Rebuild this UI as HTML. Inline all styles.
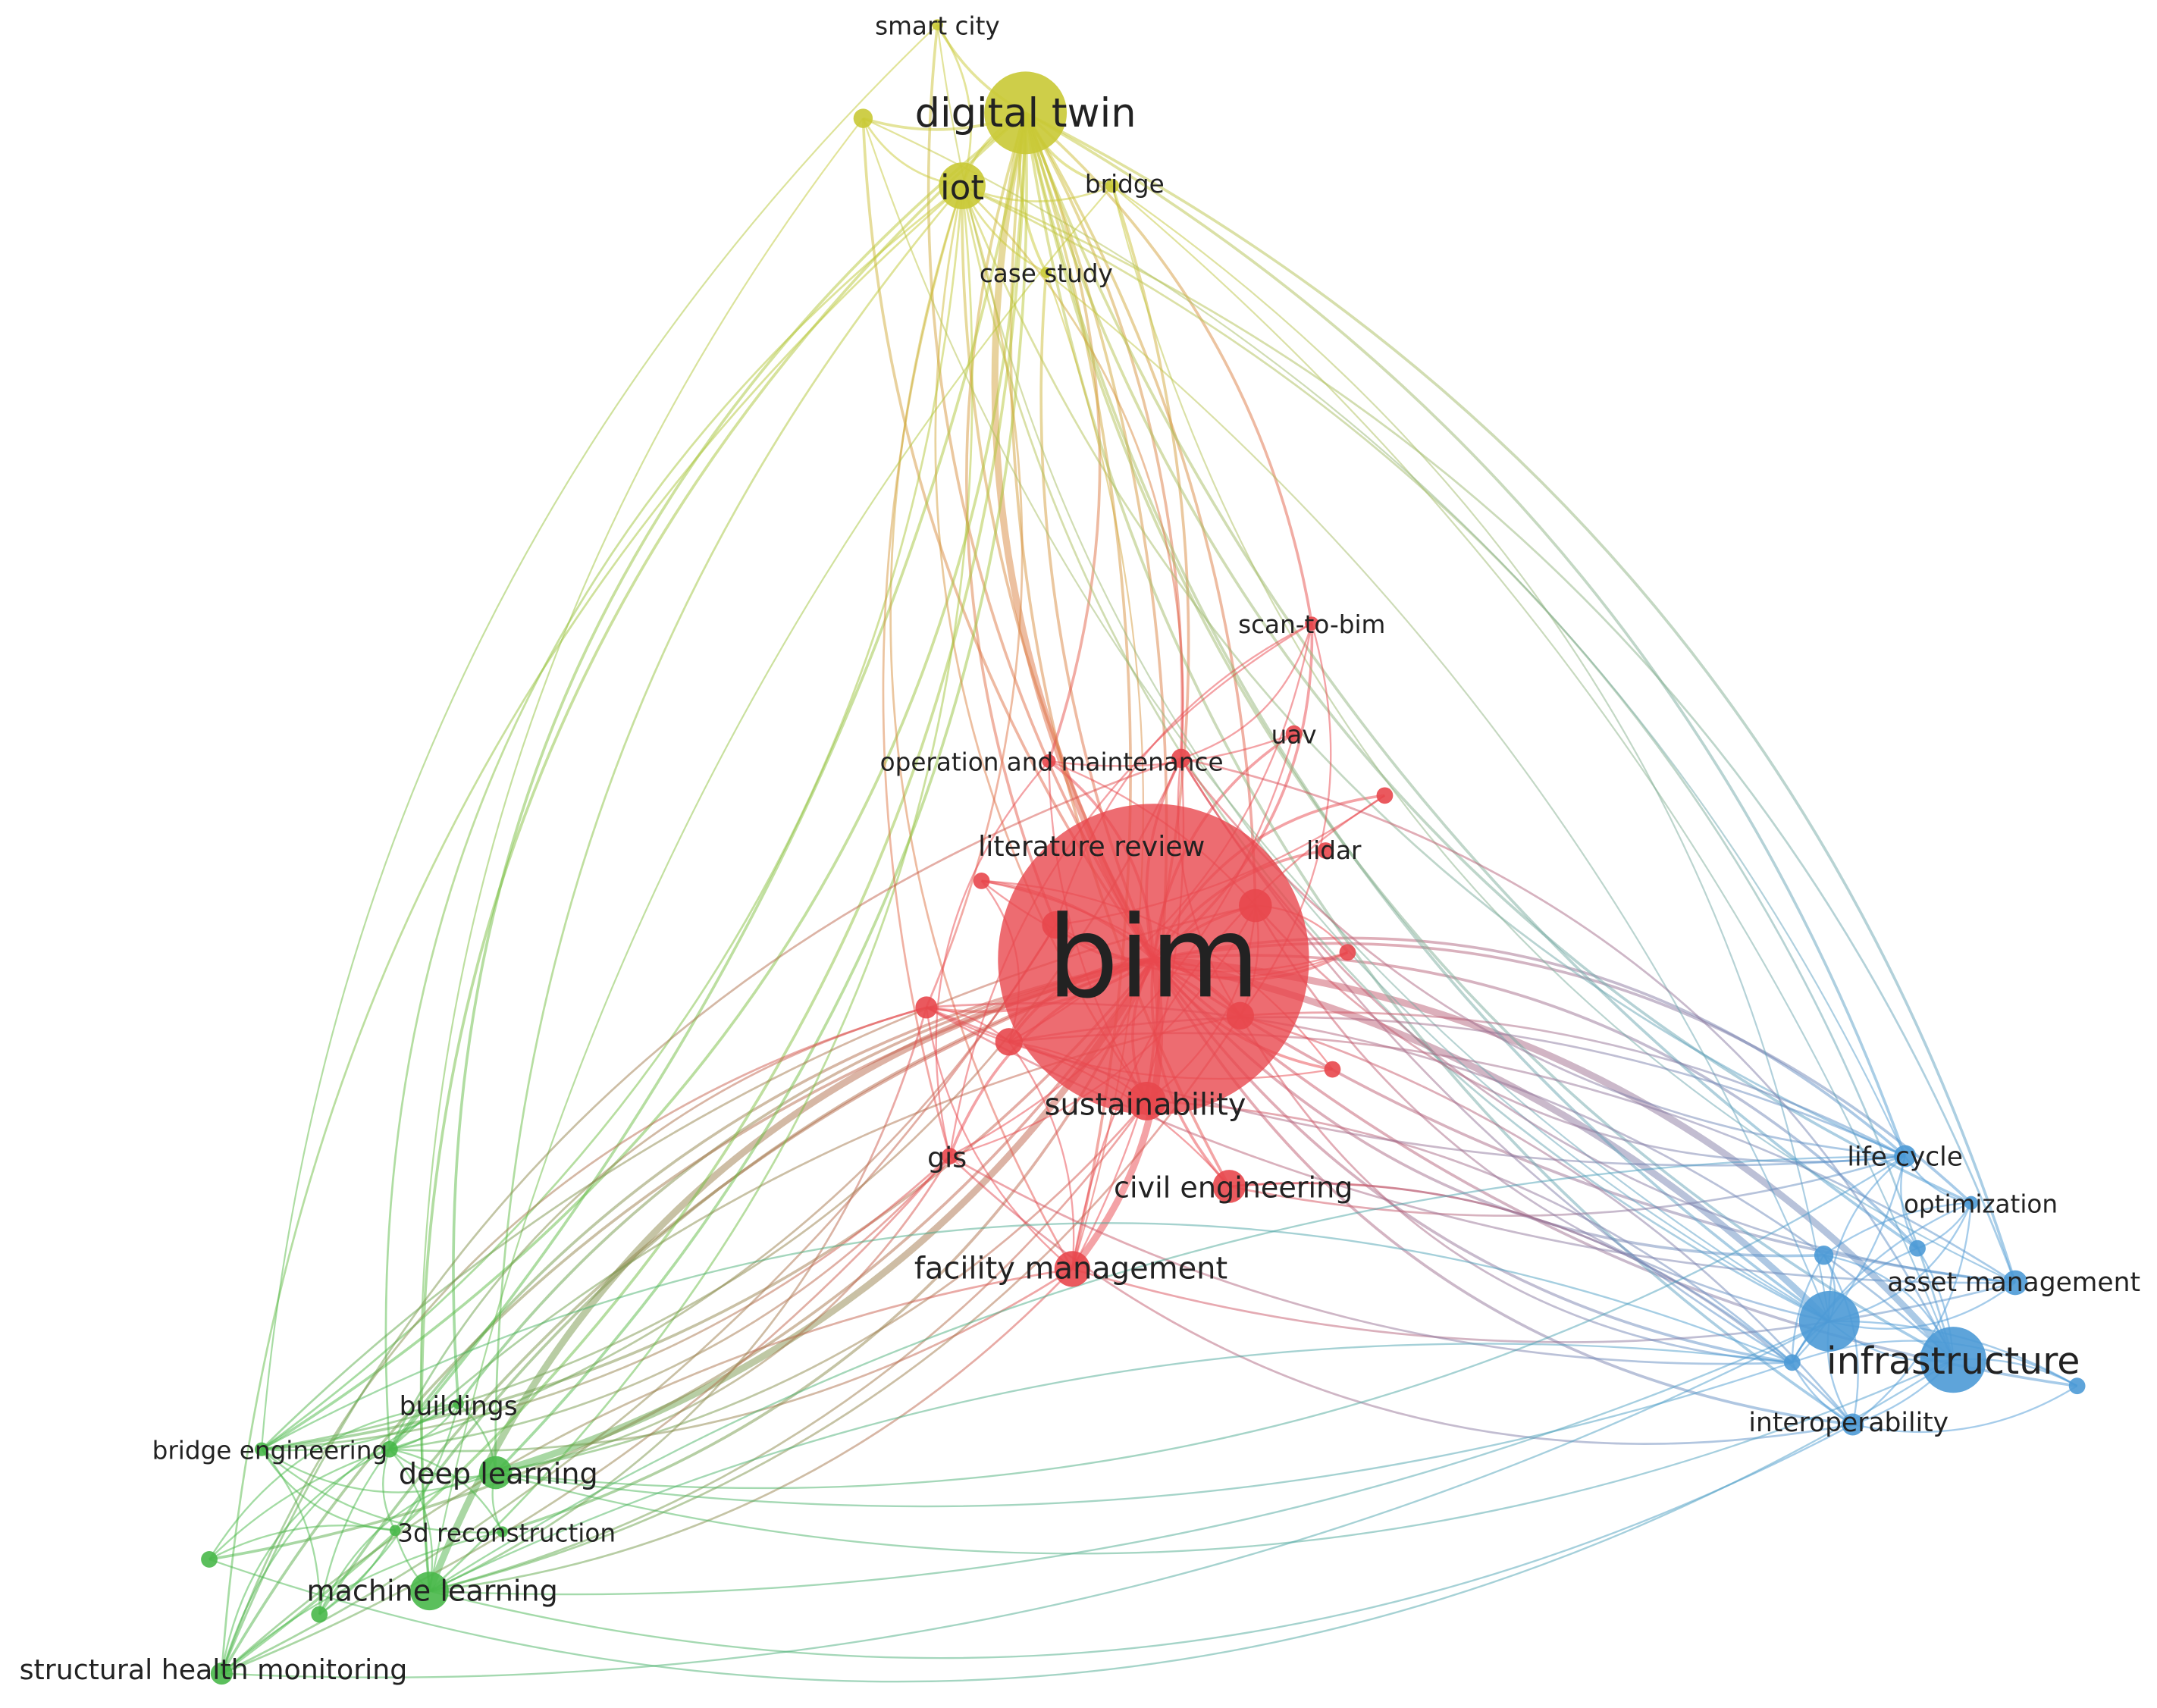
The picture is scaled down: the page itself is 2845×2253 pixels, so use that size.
<!DOCTYPE html>
<html><head><meta charset="utf-8">
<style>
html,body{margin:0;padding:0;background:#fff;}
svg{display:block;}
text{font-family:"DejaVu Sans","Liberation Sans",sans-serif;fill:#222;}
</style></head>
<body>
<svg id="s" width="2845" height="2253" viewBox="0 0 1567 1241" xmlns="http://www.w3.org/2000/svg">
<defs id="d"></defs>
<g id="edges"></g>
<g id="nodes"></g>
<g id="labels">
<text x="838" y="724" font-size="82" text-anchor="middle" fill="#111">bim</text>
<text x="745" y="92" font-size="29" text-anchor="middle">digital twin</text>
<text x="699" y="145" font-size="25" text-anchor="middle">iot</text>
<text x="681" y="25" font-size="18" text-anchor="middle">smart city</text>
<text x="817" y="140" font-size="18" text-anchor="middle">bridge</text>
<text x="760" y="205" font-size="18" text-anchor="middle">case study</text>
<text x="953" y="460" font-size="18" text-anchor="middle">scan-to-bim</text>
<text x="940" y="540" font-size="18" text-anchor="middle">uav</text>
<text x="764" y="560" font-size="18" text-anchor="middle">operation and maintenance</text>
<text x="793" y="622" font-size="20" text-anchor="middle">literature review</text>
<text x="969" y="624" font-size="18" text-anchor="middle">lidar</text>
<text x="832" y="810" font-size="22" text-anchor="middle">sustainability</text>
<text x="688" y="848" font-size="20" text-anchor="middle">gis</text>
<text x="896" y="870" font-size="21" text-anchor="middle">civil engineering</text>
<text x="778" y="929" font-size="22" text-anchor="middle">facility management</text>
<text x="1384" y="847" font-size="19" text-anchor="middle">life cycle</text>
<text x="1439" y="881" font-size="18" text-anchor="middle">optimization</text>
<text x="1463" y="938" font-size="19" text-anchor="middle">asset management</text>
<text x="1419" y="998" font-size="27" text-anchor="middle">infrastructure</text>
<text x="1343" y="1040" font-size="19" text-anchor="middle">interoperability</text>
<text x="333" y="1028" font-size="19" text-anchor="middle">buildings</text>
<text x="196" y="1060" font-size="18" text-anchor="middle">bridge engineering</text>
<text x="362" y="1078" font-size="21" text-anchor="middle">deep learning</text>
<text x="368" y="1120" font-size="18" text-anchor="middle">3d reconstruction</text>
<text x="314" y="1163" font-size="21" text-anchor="middle">machine learning</text>
<text x="155" y="1220" font-size="20" text-anchor="middle">structural health monitoring</text>
</g>
</svg>
<script>
var Y="#c9c935",R="#e8474d",B="#4d9ad6",G="#49b84a";
var N={
bim:[838,697,113,R],dt:[745,82,30,Y],iot:[699,135,17,Y],sc:[681,18,4,Y],y2:[627,86,7,Y],br:[808,135,5,Y],cs:[760,198,4,Y],
sb:[953,453,5,R],uav:[940,533,6,R],om:[858,551,7,R],r2:[762,553,5,R],r3:[1006,578,6,R],li:[963,618,6,R],
r4:[912,658,12,R],lr:[767,672,10,R],r5:[713,640,6,R],r6:[979,692,6,R],r7:[673,732,8,R],r8:[901,738,10,R],r9:[733,757,10,R],r10:[968,777,6,R],
su:[833,800,14,R],gis:[690,840,6,R],ce:[893,862,12,R],fm:[779,922,13,R],
lc:[1384,840,8,B],op:[1432,874,5,B],b2:[1325,912,7,B],b3:[1393,907,6,B],am:[1464,932,9,B],b4:[1329,960,22,B],inf:[1419,988,24,B],b5:[1302,990,6,B],io:[1346,1035,8,B],b6:[1509,1007,6,B],
bu:[333,1020,4,G],be:[190,1053,5,G],g2:[283,1053,6,G],dl:[360,1070,12,G],g3d:[365,1113,4,G],g4:[287,1112,4,G],g5:[152,1133,6,G],ml:[312,1156,14,G],g6:[232,1173,6,G],shm:[161,1216,8,G]};
var keys=Object.keys(N);
var seed=7;function rnd(){seed=(seed*16807)%2147483647;return seed/2147483647;}
var E=[];
keys.forEach(function(k){if(k!="bim")E.push(["bim",k,k=="dt"||k=="inf"||k=="b4"||k=="ml"||k=="dl"||k=="fm"?5:2]);});
["iot","sc","y2","br","cs","sb","om","r2","r4","lr","su","ce","fm","lc","am","inf","b4","io","dl","ml","bu","be","g2","shm","op","b3"].forEach(function(k){E.push(["dt",k,2]);});
["sc","y2","br","cs","om","su","fm","inf","b4","lc","am","dl","ml","g2","be","shm","gis","r7"].forEach(function(k){E.push(["iot",k,1.5]);});
["br","cs","y2","sc"].forEach(function(k){["inf","lc","am","ml","dl","fm","b4","be"].forEach(function(t){if(rnd()<0.5)E.push([k,t,1.2]);});});
var reds=["sb","uav","om","r2","r3","li","r4","lr","r5","r6","r7","r8","r9","r10","su","gis","ce","fm"];
reds.forEach(function(a){reds.forEach(function(b){if(a<b&&rnd()<0.22)E.push([a,b,1.3]);});});
var blues=["lc","op","b2","b3","am","b4","inf","b5","io","b6"];
blues.forEach(function(a){blues.forEach(function(b){if(a<b&&rnd()<0.55)E.push([a,b,1.3]);});});
var greens=["bu","be","g2","dl","g3d","g4","g5","ml","g6","shm"];
greens.forEach(function(a){greens.forEach(function(b){if(a<b&&rnd()<0.55)E.push([a,b,1.3]);});});
["su","ce","fm","gis","r7","r9","r8","r4","lr","om"].forEach(function(a){["inf","b4","io","lc","am","b5","dl","ml","g2","be","shm"].forEach(function(b){if(rnd()<0.4)E.push([a,b,1.5]);});});
["dl","ml","g2","shm","be","g5"].forEach(function(a){["inf","b4","io","lc","b5"].forEach(function(b){if(rnd()<0.4)E.push([a,b,1.3]);});});
var ns="http://www.w3.org/2000/svg",d=document.getElementById("d"),ge=document.getElementById("edges"),gn=document.getElementById("nodes");
E.forEach(function(e,i){var a=N[e[0]],b=N[e[1]];var dx=b[0]-a[0],dy=b[1]-a[1];
var s=(rnd()<0.5?-1:1)*(0.12+0.15*rnd());var cx=(a[0]+b[0])/2-dy*s,cy=(a[1]+b[1])/2+dx*s;
var lg=document.createElementNS(ns,"linearGradient");lg.setAttribute("id","g"+i);lg.setAttribute("gradientUnits","userSpaceOnUse");
lg.setAttribute("x1",a[0]);lg.setAttribute("y1",a[1]);lg.setAttribute("x2",b[0]);lg.setAttribute("y2",b[1]);
lg.innerHTML='<stop offset="0" stop-color="'+a[3]+'"/><stop offset="1" stop-color="'+b[3]+'"/>';d.appendChild(lg);
var p=document.createElementNS(ns,"path");p.setAttribute("d","M"+a[0]+","+a[1]+" Q"+cx+","+cy+" "+b[0]+","+b[1]);
p.setAttribute("fill","none");p.setAttribute("stroke","url(#g"+i+")");p.setAttribute("stroke-width",e[2]);p.setAttribute("stroke-opacity",0.5);ge.appendChild(p);});
keys.forEach(function(k){var n=N[k];var c=document.createElementNS(ns,"circle");c.setAttribute("cx",n[0]);c.setAttribute("cy",n[1]);c.setAttribute("r",n[2]);
c.setAttribute("fill",n[3]);c.setAttribute("fill-opacity",k=="bim"?0.8:0.9);gn.appendChild(c);});
</script>
</body></html>
